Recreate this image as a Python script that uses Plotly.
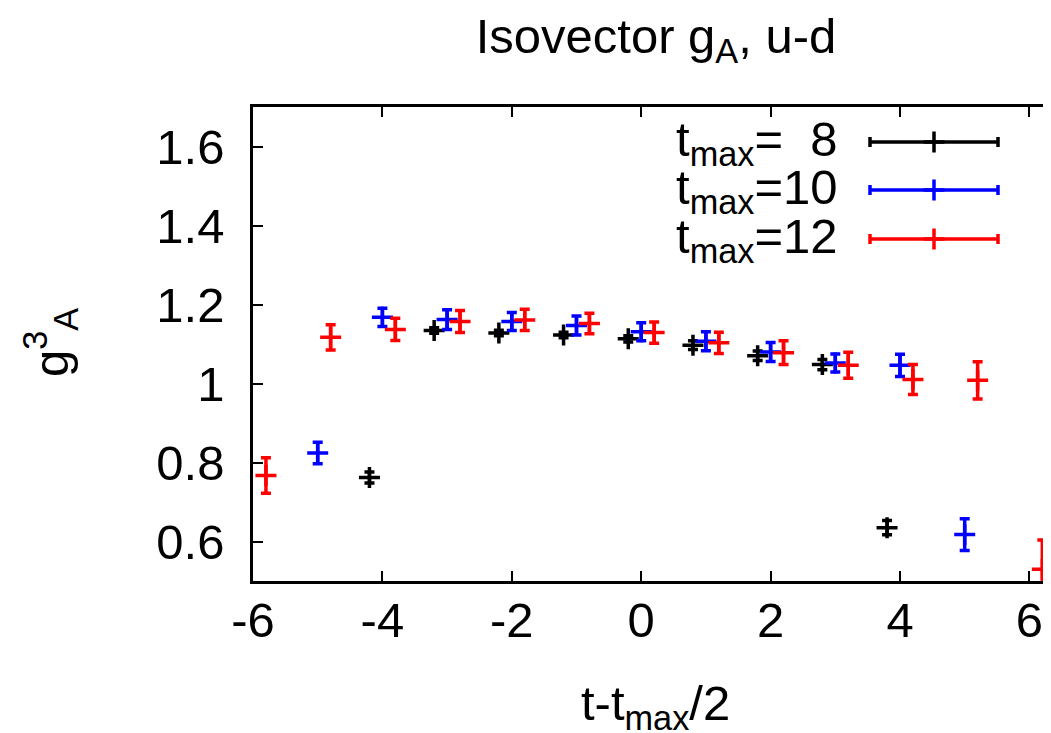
import plotly.graph_objects as go

# ---- data ----
t8_x = [-4.2, -3.2, -2.2, -1.2, -0.2, 0.8, 1.8, 2.8, 3.8]
t8_y = [0.762, 1.134, 1.128, 1.123, 1.113, 1.097, 1.070, 1.048, 0.635]
t8_err = [0.014, 0.007, 0.007, 0.007, 0.008, 0.011, 0.012, 0.013, 0.018]

t10_x = [-5, -4, -3, -2, -1, 0, 1, 2, 3, 4, 5]
t10_y = [0.824, 1.1675, 1.162, 1.157, 1.147, 1.131, 1.107, 1.080, 1.052, 1.046, 0.6175]
t10_err = [0.027, 0.023, 0.025, 0.023, 0.024, 0.023, 0.024, 0.024, 0.023, 0.028, 0.040]

t12_x = [-5.8, -4.8, -3.8, -2.8, -1.8, -0.8, 0.2, 1.2, 2.2, 3.2, 4.2, 5.2, 6.2]
t12_y = [0.767, 1.117, 1.137, 1.157, 1.161, 1.152, 1.129, 1.103, 1.078, 1.046, 1.010, 1.008, 0.530]
t12_err = [0.045, 0.032, 0.028, 0.028, 0.027, 0.026, 0.027, 0.027, 0.030, 0.033, 0.038, 0.047, 0.074]

series_names = ["t<sub>max</sub>=\u00a0\u00a08", "t<sub>max</sub>=10", "t<sub>max</sub>=12"]
series_colors = ["#000000", "#0000ff", "#ff0000"]

x_ticks = [-6, -4, -2, 0, 2, 4, 6]
x_ticktext = ["-6", "-4", "-2", "0", "2", "4", "6"]
y_ticks = [0.6, 0.8, 1.0, 1.2, 1.4, 1.6]
y_ticktext = ["0.6", "0.8", "1", "1.2", "1.4", "1.6"]

FONT = "Liberation Sans, Arial, Helvetica, sans-serif"
FS = 49

# layout geometry (pixels); page body has an 8px margin
OFF = 8
W, H = 1051 - OFF, 733 - OFF
L, T = 253 - OFF, 107 - OFF
PB = 581 - OFF           # plot bottom in figure pixels
R, B = 0, H - PB
PW, PH = W - L - R, PB - T


def px_x(x):
    return (x - OFF - L) / PW


def px_y(y):
    return (PB - (y - OFF)) / PH


fig = go.Figure()

series = [(t8_x, t8_y, t8_err), (t10_x, t10_y, t10_err), (t12_x, t12_y, t12_err)]
for (xs, ys, es), name, col in zip(series, series_names, series_colors):
    fig.add_trace(go.Scatter(
        x=xs, y=ys, mode="markers", name=name, showlegend=False,
        marker=dict(symbol="cross-thin", size=15, color=col,
                    line=dict(color=col, width=3.5)),
        error_y=dict(type="data", array=es, visible=True, color=col,
                     thickness=3.5, width=5),
        cliponaxis=True,
    ))

# legend (gnuplot style) on an overlay paper-like axis
leg_x = px_x(934)
leg_half = 64 / PW
leg_y = [px_y(142), px_y(190), px_y(239)]
leg_text_x = px_x(840)
for name, col, ly in zip(series_names, series_colors, leg_y):
    fig.add_trace(go.Scatter(
        x=[leg_x], y=[ly], mode="markers", showlegend=False,
        xaxis="x2", yaxis="y2",
        marker=dict(symbol="cross-thin", size=15, color=col,
                    line=dict(color=col, width=3.5)),
        error_x=dict(type="data", array=[leg_half], visible=True, color=col,
                     thickness=3.5, width=5),
    ))
    fig.add_annotation(x=leg_text_x, y=ly, xref="x2", yref="y2", text=name,
                       showarrow=False, xanchor="right", yanchor="middle",
                       font=dict(family=FONT, size=FS, color="black"))

# axis titles as annotations for exact placement
fig.add_annotation(x=px_x(655), y=px_y(706), xref="paper", yref="paper",
                   text="t-t<sub>max</sub>/2", showarrow=False,
                   xanchor="center", yanchor="middle",
                   font=dict(family=FONT, size=FS, color="black"))
fig.add_annotation(x=px_x(50), y=px_y(343), xref="paper", yref="paper",
                   text="g<sup>3</sup><sub>A</sub>", showarrow=False, textangle=-90,
                   xanchor="center", yanchor="middle",
                   font=dict(family=FONT, size=FS, color="black"))

fig.update_layout(
    width=W, height=H, autosize=False,
    margin=dict(l=L, r=R, t=T, b=B, pad=0),
    paper_bgcolor="white", plot_bgcolor="white",
    font=dict(family=FONT, size=FS, color="black"),
    title=dict(text="Isovector g<sub>A</sub>, u-d", x=(656 - OFF) / W, xref="container",
               xanchor="center",
               y=1 - (36 - OFF) / H, yref="container", yanchor="middle",
               font=dict(family=FONT, size=FS)),
    xaxis=dict(range=[-6, -6 + PW / 64.7], tickvals=x_ticks, ticktext=x_ticktext,
               ticks="inside", ticklen=10, tickwidth=2, tickcolor="black",
               showline=True, linecolor="black", linewidth=2.5, mirror="ticks",
               showgrid=False, zeroline=False, automargin=False,
               ticklabelstandoff=-6,
               tickfont=dict(family=FONT, size=FS)),
    yaxis=dict(range=[0.5, 1.7], tickvals=y_ticks, ticktext=y_ticktext,
               ticks="inside", ticklen=10, tickwidth=2, tickcolor="black",
               showline=True, linecolor="black", linewidth=2.5,
               showgrid=False, zeroline=False, automargin=False,
               ticklabelstandoff=16,
               tickfont=dict(family=FONT, size=FS)),
    xaxis2=dict(overlaying="x", range=[0, 1], visible=False),
    yaxis2=dict(overlaying="y", range=[0, 1], visible=False),
)

fig.write_html("out.html")
